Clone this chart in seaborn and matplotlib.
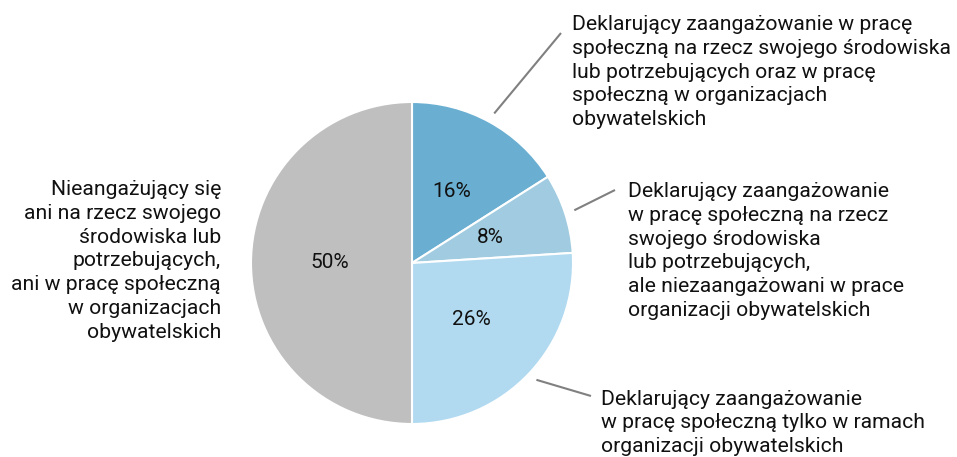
import numpy as np
import matplotlib
matplotlib.use("Agg")
import matplotlib.pyplot as plt
import seaborn as sns

# Data
shares = [16, 8, 26, 50]
labels = [
    "Deklarujący zaangażowanie w pracę\nspołeczną na rzecz swojego środowiska\nlub potrzebujących oraz w pracę\nspołeczną w organizacjach\nobywatelskich",
    "Deklarujący zaangażowanie\nw pracę społeczną na rzecz\nswojego środowiska\nlub potrzebujących,\nale niezaangażowani w prace\norganizacji obywatelskich",
    "Deklarujący zaangażowanie\nw pracę społeczną tylko w ramach\norganizacji obywatelskich",
    "Nieangażujący się\nani na rzecz swojego\nśrodowiska lub\npotrzebujących,\nani w pracę społeczną\nw organizacjach\nobywatelskich",
]
colors = sns.color_palette(["#6aafd2", "#a0cbe0", "#b1daf1", "#bfbfbf"])

sns.set_theme(style="white")
plt.rcParams["font.family"] = ["Roboto", "DejaVu Sans"]

W, H = 957, 457
fig = plt.figure(figsize=(W / 100, H / 100), dpi=100)
ax = fig.add_axes([0, 0, 1, 1])

cx, cy, r = 412, H - 263, 161  # pixel based layout
wedges, _, autotexts = ax.pie(
    shares, colors=colors, startangle=90, counterclock=False,
    center=(cx, cy), radius=r, autopct="%d%%", pctdistance=0.51,
    wedgeprops=dict(edgecolor="white", linewidth=1.5),
    textprops=dict(fontsize=15, color="#111111"),
)
ax.set_xlim(0, W)
ax.set_ylim(0, H)
ax.axis("off")

# label positions (pixel, from top) and leader line end points
label_pos = [(572, 72, "left"), (628, 251, "left"), (601, 423, "left"), (221, 261, "right")]
line_ends = [(561, 33), (615, 190), (591, 396), None]

for w, lab, (lx, ly, ha), end in zip(wedges, labels, label_pos, line_ends):
    ax.text(lx, H - ly, lab, ha=ha, va="center", fontsize=15.2,
            color="#111111", linespacing=1.32)
    if end is not None:
        mid = np.deg2rad((w.theta1 + w.theta2) / 2)
        sx, sy = cx + 1.06 * r * np.cos(mid), cy + 1.06 * r * np.sin(mid)
        ax.plot([sx, end[0]], [sy, H - end[1]], color="#808080", lw=1.5,
                solid_capstyle="butt")

fig.savefig("out.png", dpi=100)
